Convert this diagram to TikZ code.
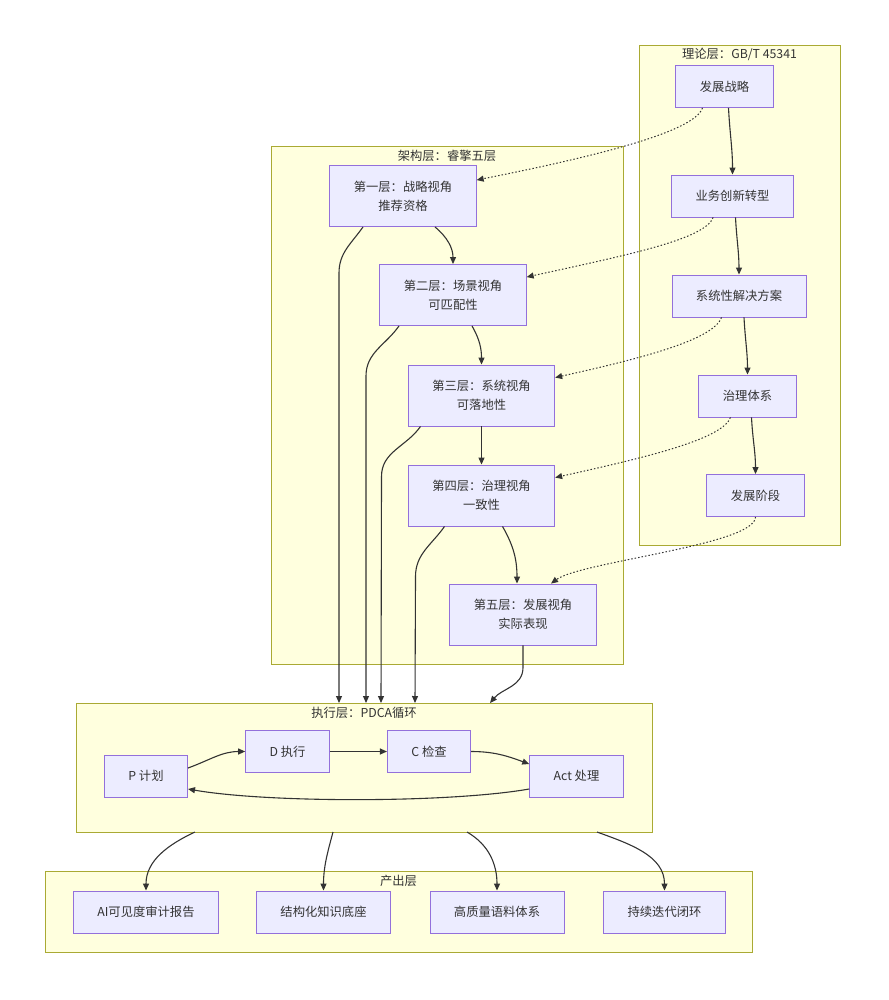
\documentclass[tikz,border=0pt]{standalone}
\usepackage{fontspec}
\setmainfont{Noto Sans CJK SC}
\usetikzlibrary{arrows.meta,positioning,calc}
\definecolor{Ink}{HTML}{333333}
\definecolor{NodeFill}{HTML}{ECECFF}
\definecolor{NodeLine}{HTML}{9370DB}
\definecolor{PanelFill}{HTML}{FFFFDE}
\definecolor{PanelLine}{HTML}{AAAA33}
\tikzset{
  box/.style={draw=NodeLine,fill=NodeFill,line width=.9pt,minimum height=42pt,align=center,inner xsep=24pt,inner ysep=6pt,text=Ink,font=\fontsize{12.3pt}{19pt}\selectfont},
  twoline/.style={minimum height=61pt},
  panel/.style={draw=PanelLine,fill=PanelFill,line width=.9pt},
  heading/.style={text=Ink,inner sep=0pt,font=\fontsize{12.3pt}{15pt}\selectfont},
  flow/.style={-{Triangle[length=7pt,width=6pt]},draw=Ink,line width=1.1pt},
  hint/.style={flow,line width=1pt,dash pattern=on 1.5pt off 2pt}
}
\begin{document}
\begin{tikzpicture}[x=1pt,y=-1pt]
      \useasboundingbox (0,0) rectangle (888,1000);
      % subgraphs
      \node[panel,minimum width=201pt,minimum height=500pt] (theory) at (739.5,295) {};
      \node[panel,minimum width=352pt,minimum height=518pt] (arch) at (447,405) {};
      \node[panel,minimum width=576pt,minimum height=129pt] (exec) at (364,767.5) {};
      \node[panel,minimum width=707pt,minimum height=81pt] (output) at (398.5,911.5) {};
      \node[heading] (theorytitle) at ([yshift=-10pt]theory.north) {理论层：GB/T 45341};
      \node[heading] (archtitle) at ([yshift=-10pt]arch.north) {架构层：睿擎五层};
      \node[heading] (exectitle) at ([yshift=-10pt]exec.north) {执行层：PDCA循环};
      \node[heading] (outputtitle) at ([yshift=-10pt]output.north) {产出层};
      % theory layer
      \node[box] (th1) at (724.5,86.5) {发展战略};
      \node[box] (th2) at (732.5,196) {业务创新转型};
      \node[box] (th3) at (739,296) {系统性解决方案};
      \node[box] (th4) at (747.5,396) {治理体系};
      \node[box] (th5) at (755.5,495.5) {发展阶段};
      % architecture layer
      \node[box,twoline] (ar1) at (403,196) {第一层：战略视角\\推荐资格};
      \node[box,twoline] (ar2) at (453,295) {第二层：场景视角\\可匹配性};
      \node[box,twoline] (ar3) at (481.5,395.5) {第三层：系统视角\\可落地性};
      \node[box,twoline] (ar4) at (481.5,495.5) {第四层：治理视角\\一致性};
      \node[box,twoline] (ar5) at (523,614.5) {第五层：发展视角\\实际表现};
      % PDCA
      \node[box] (pp) at (146,776) {P 计划};
      \node[box] (pd) at (287.5,751.5) {D 执行};
      \node[box] (pc) at (429,751.5) {C 检查};
      \node[box] (pa) at (576.5,776) {Act 处理};
      % outputs
      \node[box] (o1) at (146,912) {AI可见度审计报告};
      \node[box] (o2) at (323.5,912) {结构化知识底座};
      \node[box] (o3) at (497,912) {高质量语料体系};
      \node[box] (o4) at (664.5,912) {持续迭代闭环};
      % free ends on the subgraph borders
      \coordinate (e1) at (339,703);
      \coordinate (e2) at (366,703);
      \coordinate (e3) at (381,703);
      \coordinate (e4) at (415,703);
      \coordinate (e5) at (490,703);
      \coordinate (b1) at (195,832);
      \coordinate (b2) at (333,832);
      \coordinate (b3) at (467,832);
      \coordinate (b4) at (597,832);
      % theory chain
      \draw[flow] ([xshift=4pt]th1.south) to[out=-87,in=90] (th2.north);
      \draw[flow] ([xshift=3pt]th2.south) to[out=-87,in=90] (th3.north);
      \draw[flow] ([xshift=5pt]th3.south) to[out=-87,in=90] (th4.north);
      \draw[flow] ([xshift=4pt]th4.south) to[out=-87,in=90] (th5.north);
      % theory -> architecture
      \draw[hint] ([xshift=27pt]th1.south west) .. controls +(-8,25) and +(110,-22) .. ([yshift=-15pt]ar1.north east);
      \draw[hint] ([xshift=42pt]th2.south west) .. controls +(-8,22) and +(100,-22) .. ([yshift=-13pt]ar2.north east);
      \draw[hint] ([xshift=50pt]th3.south west) .. controls +(-8,22) and +(90,-20) .. ([yshift=-13pt]ar3.north east);
      \draw[hint] ([xshift=32pt]th4.south west) .. controls +(-8,22) and +(90,-20) .. ([yshift=-13pt]ar4.north east);
      \draw[hint] (th5.south) .. controls +(0,28) and +(30,-22) .. ([xshift=28pt]ar5.north);
      % architecture chain
      \draw[flow] ([xshift=32pt]ar1.south) to[out=-40,in=90] (ar2.north);
      \draw[flow] ([xshift=19pt]ar2.south) to[out=-60,in=90] (ar3.north);
      \draw[flow] (ar3.south) -- (ar4.north);
      \draw[flow] ([xshift=21pt]ar4.south) to[out=-60,in=90] ([xshift=-6pt]ar5.north);
      % architecture -> PDCA
      \draw[flow] ([xshift=-40pt]ar1.south) to[out=-125,in=90] ++(-24,46) -- (e1);
      \draw[flow] ([xshift=-54pt]ar2.south) to[out=-125,in=90] ++(-33,50) -- (e2);
      \draw[flow] ([xshift=-61pt]ar3.south) to[out=-125,in=90] ++(-39,50) -- (e3);
      \draw[flow] ([xshift=-37pt]ar4.south) to[out=-125,in=90] ++(-29,50) -- (e4);
      \draw[flow] (ar5.south) -- ++(0,22) to[out=-90,in=50] (e5);
      % PDCA cycle
      \draw[flow] ([yshift=8pt]pp.east) to[out=20,in=180] (pd.west);
      \draw[flow] (pd.east) -- (pc.west);
      \draw[flow] (pc.east) to[out=0,in=160] ([yshift=12pt]pa.west);
      \draw[flow] ([yshift=-13pt]pa.west) .. controls +(-80,14) and +(80,14) .. ([yshift=-13pt]pp.east);
      % PDCA -> outputs
      \draw[flow] (b1) to[out=-155,in=90] (o1.north);
      \draw[flow] (b2) to[out=-105,in=90] (o2.north);
      \draw[flow] (b3) to[out=-30,in=90] (o3.north);
      \draw[flow] (b4) to[out=-20,in=90] (o4.north);
    \end{tikzpicture}
\end{document}
